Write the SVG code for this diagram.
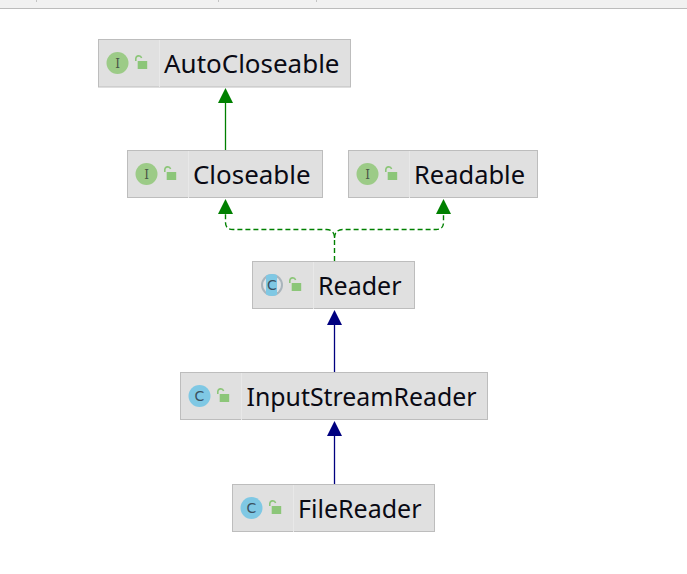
<svg xmlns="http://www.w3.org/2000/svg" width="687" height="574" viewBox="0 0 687 574">
<style>
.box{fill:#e0e0e0;stroke:#bdbdbd;stroke-width:1}
.div{stroke:#e8e8e8;stroke-width:1}
.t{font-family:"Noto Sans","Open Sans","Liberation Sans",sans-serif;font-size:25px;fill:#0a0a14}
.ii{fill:#9ccb87}
.ic{fill:#7fc8e4}
.l{font-family:"DejaVu Serif","Liberation Serif",serif;font-size:12px;fill:#4a5548;text-anchor:middle}
.lc{font-family:"DejaVu Sans","Liberation Sans",sans-serif;font-size:14px;fill:#3a5060;text-anchor:middle}
.lockb{fill:#8cc679}
.locks{fill:none;stroke:#8cc679;stroke-width:1.6}
.g{fill:none;stroke:#008000;stroke-width:1.3}
.gd{fill:none;stroke:#008000;stroke-width:1.4;stroke-dasharray:5 3}
.b{fill:none;stroke:#000080;stroke-width:1.3}
</style>
<defs>
<g id="lock"><path class="locks" d="M0.8 -1V-3.500a3 3 0 0 1 5.800 -0.600"/><rect class="lockb" x="2.700" y="-1" width="9.500" height="8"/></g>
<clipPath id="rc"><circle cx="272" cy="285" r="11"/></clipPath>
</defs>
<rect x="0" y="0" width="687" height="8" fill="#f1f1f1"/>
<rect x="0" y="8" width="687" height="1" fill="#bcbcbc"/>
<path d="M36.500 0V2M218.500 0V2M316.500 0V2" stroke="#c4c4c4" stroke-width="1"/>
<g id="connectors">
<path class="g" d="M225.500 150V102"/><path fill="#008000" d="M225.500 88l7.500 15h-15z"/>
<path class="gd" d="M334.500 261V238q0-8-8-8.500H233q-7.500 0-7.500-7V213"/>
<path class="gd" d="M334.500 238q0-8 8-8.500H436q7.500 0 7.500-7V213"/>
<path fill="#008000" d="M225.500 199l7.500 15h-15z"/>
<path fill="#008000" d="M443.500 199l7.500 15h-15z"/>
<path class="b" d="M334.500 372V324"/><path fill="#000080" d="M334.500 310l7.500 15h-15z"/>
<path class="b" d="M334.500 484V436"/><path fill="#000080" d="M334.500 421l7.500 15h-15z"/>
</g>
<g id="AutoCloseable">
<rect class="box" x="98.500" y="39.500" width="252" height="47.500"/><path class="div" d="M159.500 40V87"/>
<circle class="ii" cx="117.500" cy="63" r="11"/><text class="l" x="117.500" y="67.500">I</text>
<use href="#lock" x="135" y="62"/>
<text class="t" x="164" y="72.500" textLength="175.500" lengthAdjust="spacingAndGlyphs">AutoCloseable</text>
</g>
<g id="Closeable">
<rect class="box" x="127.500" y="150.500" width="195" height="47"/><path class="div" d="M188.500 151V198"/>
<circle class="ii" cx="146.500" cy="174" r="11"/><text class="l" x="146.500" y="178.500">I</text>
<use href="#lock" x="164" y="173"/>
<text class="t" x="193" y="183.500" textLength="117.500" lengthAdjust="spacingAndGlyphs">Closeable</text>
</g>
<g id="Readable">
<rect class="box" x="348.500" y="150.500" width="189" height="47"/><path class="div" d="M409.500 151V198"/>
<circle class="ii" cx="367.500" cy="174" r="11"/><text class="l" x="367.500" y="178.500">I</text>
<use href="#lock" x="385" y="173"/>
<text class="t" x="414" y="183.500" textLength="111" lengthAdjust="spacingAndGlyphs">Readable</text>
</g>
<g id="Reader">
<rect class="box" x="252.500" y="261.500" width="162" height="47"/><path class="div" d="M313.500 262V309"/>
<circle cx="272" cy="285" r="11" fill="#a9b4bc"/><circle cx="272" cy="285" r="9" fill="#dfe3e6"/>
<rect x="266" y="273" width="11" height="23" fill="#7fc8e4" clip-path="url(#rc)"/><text class="lc" x="272" y="290">C</text>
<use href="#lock" x="289" y="284"/>
<text class="t" x="318" y="294.500">Reader</text>
</g>
<g id="InputStreamReader">
<rect class="box" x="180.500" y="372.500" width="307" height="47"/><path class="div" d="M241.500 373V420"/>
<circle class="ic" cx="199.500" cy="396" r="11"/><text class="lc" x="199.500" y="401">C</text>
<use href="#lock" x="217" y="395"/>
<text class="t" x="246.500" y="405.500" textLength="230" lengthAdjust="spacingAndGlyphs">InputStreamReader</text>
</g>
<g id="FileReader">
<rect class="box" x="232.500" y="484.500" width="202" height="47"/><path class="div" d="M293.500 485V532"/>
<circle class="ic" cx="251.500" cy="508" r="11"/><text class="lc" x="251.500" y="513">C</text>
<use href="#lock" x="269" y="507"/>
<text class="t" x="298" y="517.500">FileReader</text>
</g>
</svg>
